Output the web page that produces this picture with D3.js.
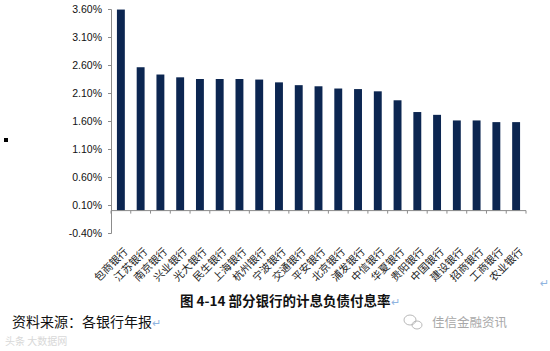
<!DOCTYPE html>
<html><head><meta charset="utf-8">
<script src="https://cdn.jsdelivr.net/npm/d3@7"></script>
<style>
html,body{margin:0;padding:0;background:#fff;}
svg{display:block;}
</style></head>
<body>
<svg id="c" width="550" height="351"></svg>
<script>
const banks = ["包商银行","江苏银行","南京银行","兴业银行","光大银行","民生银行","上海银行","杭州银行","宁波银行","交通银行","平安银行","北京银行","浦发银行","中信银行","华夏银行","贵阳银行","中国银行","建设银行","招商银行","工商银行","农业银行"];
const rates = [3.59,2.56,2.43,2.38,2.35,2.35,2.35,2.34,2.29,2.24,2.22,2.18,2.17,2.13,1.97,1.76,1.71,1.61,1.61,1.58,1.58];
const yTicks = [-0.4,0.1,0.6,1.1,1.6,2.1,2.6,3.1,3.6];
const caption = "图 4-14 部分银行的计息负债付息率";
const source = "资料来源：各银行年报";
const brand = "佳信金融资讯";

const svg = d3.select("#c");
const x = d3.scaleBand().domain(banks).range([111, 526]).paddingInner(0.6).paddingOuter(0.3);
const y = d3.scaleLinear().domain([-0.4, 3.6]).range([233, 9]);

// y axis
const yAxis = svg.append("g").attr("transform","translate(111,0)")
  .call(d3.axisLeft(y).tickValues(yTicks).tickSize(3).tickPadding(6).tickFormat(d => d.toFixed(2) + "%"));
yAxis.select(".domain").attr("stroke","#8c8c8c");
yAxis.selectAll(".tick line").attr("stroke","#8c8c8c");
yAxis.selectAll("text").attr("font-family","'Liberation Sans', Arial, sans-serif").attr("font-size","10.5px").attr("fill","#111");

// bars
svg.append("g").selectAll("rect").data(banks).join("rect")
  .attr("x", d => x(d))
  .attr("width", x.bandwidth())
  .attr("y", (d,i) => y(rates[i]))
  .attr("height", (d,i) => y(0) - y(rates[i]))
  .attr("fill", "#0c2651");

// x axis at zero with boundary ticks
const step = x.step();
const x0 = x.range()[0];
svg.append("line").attr("x1", x0).attr("x2", x.range()[1]).attr("y1", y(0)).attr("y2", y(0)).attr("stroke","#8c8c8c");
svg.append("g").selectAll("line").data(d3.range(banks.length + 1)).join("line")
  .attr("x1", i => x0 + i*step).attr("x2", i => x0 + i*step)
  .attr("y1", y(0)).attr("y2", y(0) + 3).attr("stroke","#8c8c8c");

// x labels
svg.append("g").selectAll("text").data(banks).join("text")
  .attr("transform", d => `translate(${x(d) + x.bandwidth()/2 + 5},${y(0) + 39}) rotate(-45)`)
  .attr("text-anchor","end")
  .attr("dy","0.35em")
  .attr("font-family","'Noto Sans CJK SC', sans-serif")
  .attr("font-size","10.5px")
  .attr("fill","#222")
  .text(d => d);

// small square marker
svg.append("rect").attr("x",4).attr("y",138).attr("width",4).attr("height",4).attr("fill","#000");

// caption
const cap = svg.append("text").attr("x",180).attr("y",306)
  .attr("font-family","'Noto Sans CJK SC', sans-serif").attr("font-size","13.5px").attr("font-weight","bold").attr("fill","#111");
cap.append("tspan").text(caption);
cap.append("tspan").attr("fill","#8fb4e0").attr("font-weight","normal").attr("font-size","11px").text("↵");

// source
const src = svg.append("text").attr("x",12).attr("y",327)
  .attr("font-family","'Noto Sans CJK SC', sans-serif").attr("font-size","14px").attr("fill","#111");
src.append("tspan").text(source);
src.append("tspan").attr("fill","#8fb4e0").attr("font-size","11px").text("↵");

// stray return marks
svg.append("text").attr("x",540).attr("y",287).attr("font-family","'DejaVu Sans', sans-serif").attr("font-size","11px").attr("fill","#8fb4e0").text("↵");

// brand watermark
const wm = svg.append("g").attr("fill","none").attr("stroke","#b0b0b0").attr("stroke-width",0.9);
wm.append("ellipse").attr("cx",410).attr("cy",320).attr("rx",6).attr("ry",5);
wm.append("ellipse").attr("cx",417).attr("cy",325).attr("rx",5).attr("ry",4);
svg.append("text").attr("x",432).attr("y",327)
  .attr("font-family","'Noto Sans CJK SC', sans-serif").attr("font-size","12.5px").attr("fill","#a8a8a8").text(brand);

// faint bottom-left watermark
svg.append("text").attr("x",5).attr("y",345)
  .attr("font-family","'Noto Sans CJK SC', sans-serif").attr("font-size","10px").attr("fill","#d8d8d8").text("头条 大数据网");
</script>
</body></html>
